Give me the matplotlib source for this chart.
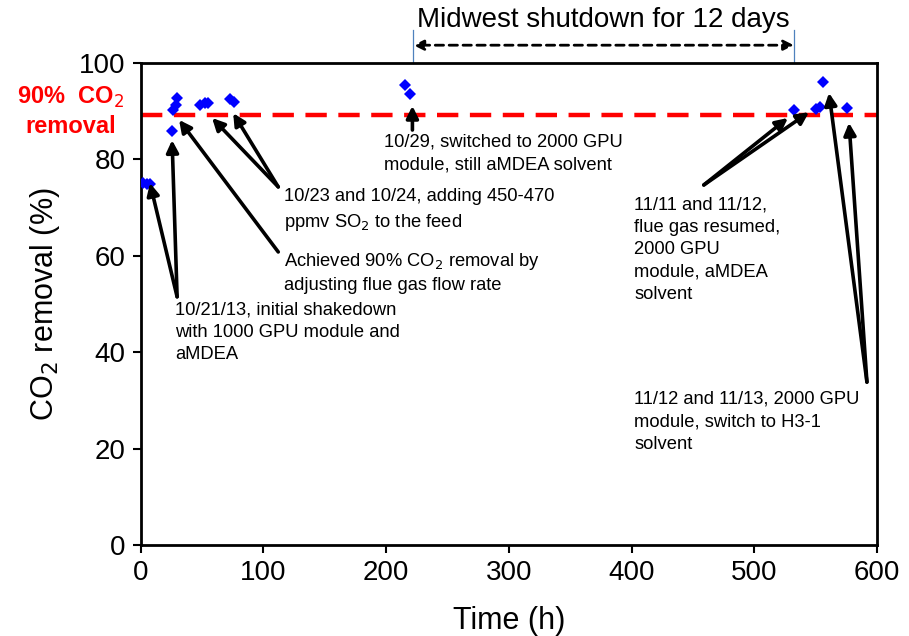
import matplotlib
matplotlib.use("Agg")
import matplotlib.pyplot as plt

plt.rcParams['font.family'] = ['Liberation Sans', 'DejaVu Sans']

# Data
time_h = [2, 5, 8, 25.7, 26.3, 29.0, 29.5, 48.5, 52.6, 55.3, 73.0, 76.3,
          215.8, 219.9, 532.6, 550.2, 553.8, 555.7, 575.5]
co2_removal = [75.2, 75.0, 75.0, 85.9, 90.2, 91.3, 92.7, 91.3, 91.8, 91.8, 92.5, 92.0,
               95.4, 93.5, 90.2, 90.5, 90.9, 96.1, 90.7]
target_removal = 89.2
x_ticks = [0, 100, 200, 300, 400, 500, 600]
y_ticks = [0, 20, 40, 60, 80, 100]
shutdown_start, shutdown_end = 222.3, 532.3

fig = plt.figure(figsize=(9.09, 6.36), dpi=100)
ax = fig.add_axes([0.1546, 0.1431, 0.8102, 0.7578])

ax.axhline(target_removal, color='#FF0000', lw=3.2, ls=(0, (4.8, 2.6)), zorder=2)
ax.plot(time_h, co2_removal, ls='none', marker='D', ms=6.5, color='#0000FF',
        markeredgewidth=0, zorder=3)

ax.set_xlim(0, 600)
ax.set_ylim(0, 100)
ax.set_xticks(x_ticks)
ax.set_yticks(y_ticks)
ax.tick_params(axis='both', direction='out', length=6, width=1.5, labelsize=20,
               pad=5)
for s in ax.spines.values():
    s.set_linewidth(2)
    s.set_color('black')

ax.set_xlabel('Time (h)', fontsize=22, labelpad=14)
ax.set_ylabel('CO$_2$ removal (%)', fontsize=22, labelpad=12)

# red label on left
ax.text(-57, 90, '90%  CO$_2$\nremoval', color='#FF0000', fontsize=17,
        fontweight='bold', ha='center', va='center', clip_on=False,
        linespacing=1.3)

# shutdown annotation
ax.text(377.3, 109.0, 'Midwest shutdown for 12 days', fontsize=20,
        ha='center', va='center', clip_on=False)
ax.annotate('', xy=(shutdown_start, 103.7), xytext=(shutdown_end, 103.7),
            arrowprops=dict(arrowstyle='<|-|>', ls=(0, (3, 2)), lw=2,
                            color='black', mutation_scale=15,
                            shrinkA=0, shrinkB=0),
            annotation_clip=False)
for xv in (shutdown_start, shutdown_end):
    ax.plot([xv, xv], [100, 106.8], color='#4F81BD', lw=0.9, clip_on=False)

arrow_kw = dict(arrowstyle='-|>', color='black', lw=2.6, mutation_scale=18,
                shrinkA=0, shrinkB=0)
afs = 13.2
lsp = 1.42

def arrows(tail, heads):
    for h in heads:
        ax.annotate('', xy=h, xytext=tail, arrowprops=arrow_kw,
                    annotation_clip=False)

# 10/21/13
arrows((29.8, 51.5), [(7.7, 75.1), (25.7, 84.0)])
ax.text(28.1, 50.6, '10/21/13, initial shakedown\nwith 1000 GPU module and\naMDEA',
        fontsize=afs, ha='left', va='top', linespacing=lsp)

# Achieved 90%
arrows((112.2, 60.8), [(31.4, 88.2)])
ax.text(116.5, 61.0, 'Achieved 90% CO$_2$ removal by\nadjusting flue gas flow rate',
        fontsize=afs, ha='left', va='top', linespacing=lsp)

# 10/23 and 10/24
arrows((112.2, 74.3), [(58.3, 88.6), (75.5, 89.6)])
ax.text(116.5, 74.0, '10/23 and 10/24, adding 450-470\nppmv SO$_2$ to the feed',
        fontsize=afs, ha='left', va='top', linespacing=lsp)

# 10/29
arrows((221.5, 86.1), [(221.5, 91.1)])
ax.text(198, 85.3, '10/29, switched to 2000 GPU\nmodule, still aMDEA solvent',
        fontsize=afs, ha='left', va='top', linespacing=lsp)

# 11/11 and 11/12
arrows((458.9, 74.7), [(527.4, 88.6), (544.6, 89.8)])
ax.text(402.3, 72.4, '11/11 and 11/12,\nflue gas resumed,\n2000 GPU\nmodule, aMDEA\nsolvent',
        fontsize=afs, ha='left', va='top', linespacing=lsp)

# 11/12 and 11/13
arrows((591.8, 33.8), [(560.9, 93.8), (577.2, 87.6)])
ax.text(402.3, 32.0, '11/12 and 11/13, 2000 GPU\nmodule, switch to H3-1\nsolvent',
        fontsize=afs, ha='left', va='top', linespacing=lsp)

fig.savefig('out.png', dpi=100)
